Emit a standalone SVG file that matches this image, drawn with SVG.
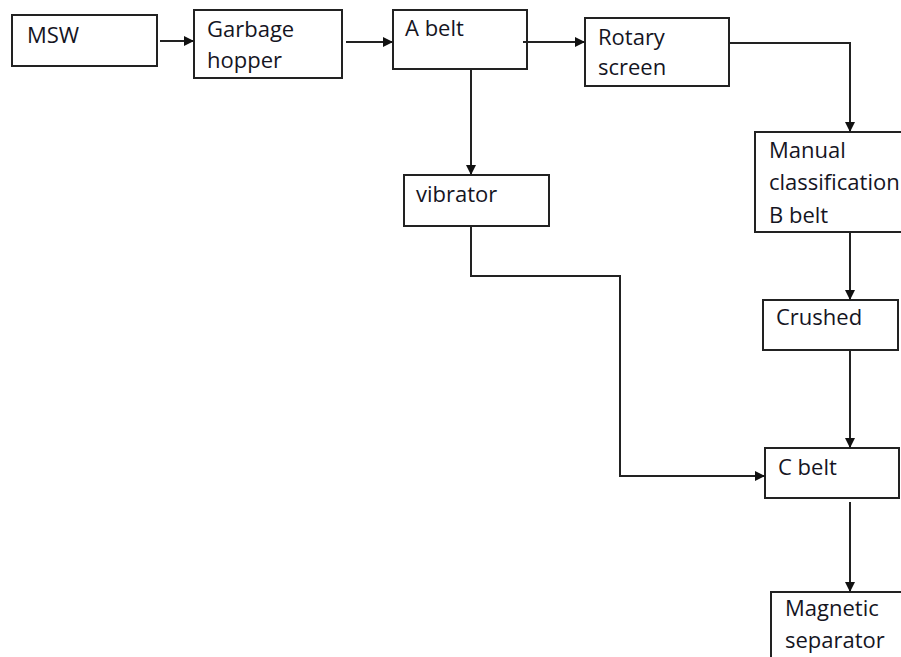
<svg xmlns="http://www.w3.org/2000/svg" width="901" height="657" viewBox="0 0 901 657">
<defs>
<marker id="ah" markerUnits="userSpaceOnUse" markerWidth="10" markerHeight="10" refX="10" refY="5" orient="auto">
<path d="M0,0 L10,5 L0,10 z" fill="#111"/>
</marker>
<style>
.box{fill:#fff;stroke:#222;stroke-width:2}
.lbl{font-family:"Open Sans","Noto Sans",sans-serif;font-size:22px;fill:#15151f}
.con{fill:none;stroke:#222;stroke-width:2}
</style>
</defs>
<rect width="901" height="657" fill="#fff"/>
<g id="msw"><rect class="box" x="12" y="15" width="145" height="51"/><text class="lbl" x="27" y="43">MSW</text></g>
<g id="garbage-hopper"><rect class="box" x="194" y="10" width="148" height="68"/><text class="lbl" x="207" y="37">Garbage</text><text class="lbl" x="207" y="68">hopper</text></g>
<g id="a-belt"><rect class="box" x="393" y="10" width="134" height="59"/><text class="lbl" x="405" y="36">A belt</text></g>
<g id="rotary-screen"><rect class="box" x="585" y="18" width="144" height="68"/><text class="lbl" x="598" y="45">Rotary</text><text class="lbl" x="598" y="75">screen</text></g>
<g id="vibrator"><rect class="box" x="404" y="175" width="145" height="51"/><text class="lbl" x="416" y="202">vibrator</text></g>
<g id="manual-classification"><rect class="box" x="755" y="132" width="160" height="100"/><text class="lbl" x="769" y="158">Manual</text><text class="lbl" x="769" y="190">classification</text><text class="lbl" x="769" y="223">B belt</text></g>
<g id="crushed"><rect class="box" x="763" y="300" width="135" height="50"/><text class="lbl" x="776" y="325">Crushed</text></g>
<g id="c-belt"><rect class="box" x="765" y="448" width="134" height="50"/><text class="lbl" x="778" y="475">C belt</text></g>
<g id="magnetic-separator"><rect class="box" x="771" y="592" width="150" height="80"/><text class="lbl" x="785" y="616">Magnetic</text><text class="lbl" x="785" y="648">separator</text></g>
<g id="connectors">
<path class="con" d="M160,41 L194,41" marker-end="url(#ah)"/>
<path class="con" d="M346,42 L393,42" marker-end="url(#ah)"/>
<path class="con" d="M523,42 L585,42" marker-end="url(#ah)"/>
<path class="con" d="M729,43 L850,43 L850,132" marker-end="url(#ah)"/>
<path class="con" d="M471,69 L471,175" marker-end="url(#ah)"/>
<path class="con" d="M471,226 L471,276 L620,276 L620,476 L765,476" marker-end="url(#ah)"/>
<path class="con" d="M850,232 L850,300" marker-end="url(#ah)"/>
<path class="con" d="M850,350 L850,448" marker-end="url(#ah)"/>
<path class="con" d="M850,502 L850,592" marker-end="url(#ah)"/>
</g>
</svg>
